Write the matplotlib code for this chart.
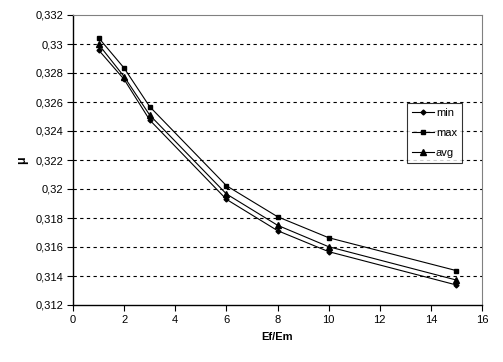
import matplotlib
matplotlib.use("Agg")
import matplotlib.pyplot as plt
from matplotlib.ticker import FuncFormatter

plt.rcParams['font.family'] = ['Liberation Sans', 'DejaVu Sans']

x = [1, 2, 3, 6, 8, 10, 15]
mu_min = [0.32959, 0.32756, 0.32476, 0.31929, 0.31713, 0.31568, 0.31338]
mu_max = [0.33043, 0.32834, 0.32568, 0.32023, 0.31809, 0.31664, 0.31437]
mu_avg = [0.32998, 0.32775, 0.32510, 0.31966, 0.31750, 0.31602, 0.31372]
yticks = [0.312, 0.314, 0.316, 0.318, 0.32, 0.322, 0.324, 0.326, 0.328, 0.33, 0.332]
xticks = [0, 2, 4, 6, 8, 10, 12, 14, 16]

fig = plt.figure(figsize=(5.03, 3.62), dpi=100)
ax = fig.add_axes([73/503, 1-305/362, (482-73)/503, (305-15)/362])

for yv in yticks[1:-1]:
    ax.axhline(yv, color='black', lw=0.8, ls=(0, (3, 3)), zorder=1)

ax.plot(x, mu_min, color='black', lw=0.8, marker='D', ms=2.5, label='min', zorder=3)
ax.plot(x, mu_max, color='black', lw=0.8, marker='s', ms=3, label='max', zorder=3)
ax.plot(x, mu_avg, color='black', lw=0.8, marker='^', ms=4.5, label='avg', zorder=3)

ax.set_xlim(0, 16)
ax.set_ylim(0.312, 0.332)
ax.set_xticks(xticks)
ax.set_yticks(yticks)
ax.xaxis.set_major_formatter(FuncFormatter(lambda v, p: f"{v:g}"))
ax.yaxis.set_major_formatter(FuncFormatter(lambda v, p: f"{round(v, 3):g}".replace('.', ',')))
ax.tick_params(axis='both', direction='out', length=4, width=0.8, labelsize=8, color='black')
ax.tick_params(axis='y', pad=3)
ax.spines['top'].set_color('#808080')
ax.spines['right'].set_color('#808080')
ax.spines['left'].set_linewidth(1)
ax.spines['bottom'].set_linewidth(1)

ax.set_xlabel('Ef/Em', fontsize=8, fontweight='bold', labelpad=5)
ax.set_ylabel('μ', fontsize=9, fontweight='bold', labelpad=5)

leg = ax.legend(loc='upper left', bbox_to_anchor=((407-73)/409, 1-(103-15)/290),
                fontsize=8, frameon=True, fancybox=False, edgecolor='black',
                handlelength=2.0, handletextpad=0.15, borderpad=0.45, labelspacing=0.9,
                borderaxespad=0)
leg.get_frame().set_linewidth(0.8)

fig.savefig('out.png', dpi=100)
